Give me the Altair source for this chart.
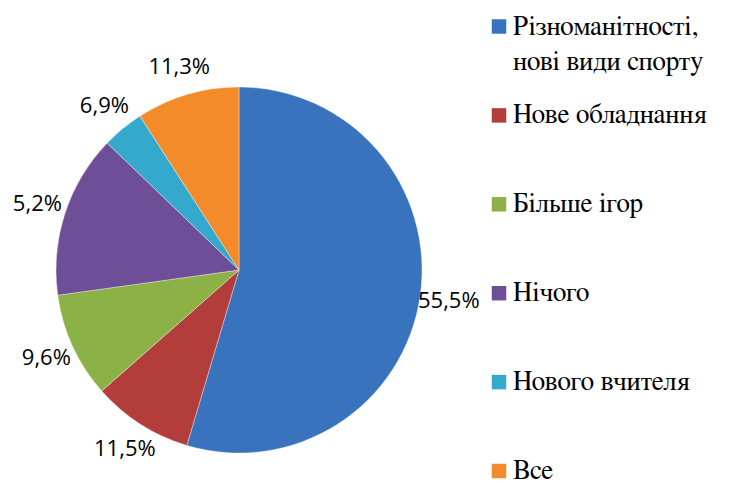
import altair as alt
import pandas as pd

categories = ["Різноманітності,\nнові види спорту", "Нове обладнання", "Більше ігор",
              "Нічого", "Нового вчителя", "Все"]
shares = [54.6, 8.9, 9.3, 14.4, 3.7, 9.1]
labels = ["55,5%", "11,5%", "9,6%", "5,2%", "6,9%", "11,3%"]
colors = ["#3A73BD", "#B33D3A", "#8CB146", "#6E4E96", "#35A9CB", "#F38B2A"]

df = pd.DataFrame({"category": categories, "share": shares, "label": labels,
                   "idx": list(range(len(categories)))})

color_scale = alt.Scale(domain=categories, range=colors)
base = alt.Chart(df)

pie = base.mark_arc(radius=183, stroke="#ffffff", strokeOpacity=0.35, strokeWidth=1).encode(
    theta=alt.Theta("share:Q", stack=True),
    color=alt.Color("category:N", scale=color_scale, legend=None),
    order=alt.Order("idx:Q"),
)

pct = base.mark_text(radius=212, font="Open Sans", fontSize=22, color="#000000").encode(
    theta=alt.Theta("share:Q", stack=True),
    order=alt.Order("idx:Q"),
    text="label:N",
)

legend_df = pd.DataFrame({"category": categories})
lbase = alt.Chart(legend_df)

ypos = alt.Y("category:N", sort=categories,
             scale=alt.Scale(type="point", range=[-60.5, 384], padding=0), axis=None)

leg_sq = lbase.mark_square(size=210, opacity=1).encode(
    x=alt.value(443),
    y=ypos,
    color=alt.Color("category:N", scale=color_scale, legend=None),
)

leg_txt = lbase.mark_text(align="left", baseline="alphabetic", dy=8, lineBreak="\n",
                          lineHeight=35, font="FreeSerif",
                          fontSize=27, color="#000000").encode(
    x=alt.value(457),
    y=ypos,
    text="category:N",
)

chart = alt.layer(pie, pct, leg_sq, leg_txt).properties(
    width=366, height=366,
    autosize=alt.AutoSizeParams(type="none"),
    padding={"left": 48, "top": 79, "right": 300, "bottom": 33},
).configure_view(stroke=None)

chart.save("out.html", embed_options={"renderer": "svg", "actions": False})
